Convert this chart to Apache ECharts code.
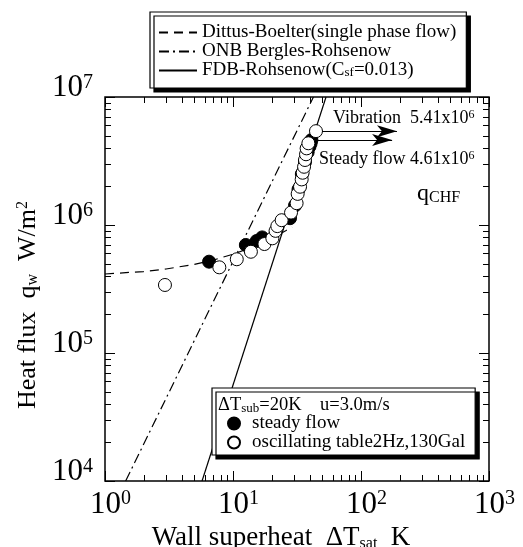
<!DOCTYPE html>
<html>
<head>
<meta charset="utf-8">
<script src="https://cdn.jsdelivr.net/npm/echarts@6/dist/echarts.min.js"></script>
<style>
  html, body { margin: 0; padding: 0; background: #fff; }
  #chart { width: 523px; height: 547px; }
</style>
</head>
<body>
<div id="chart"></div>
<script>
const SERIF = '"Liberation Serif", "DejaVu Serif", serif';

// Axis ranges (wall superheat in K, heat flux in W/m2)
const xRange = [1, 1000];
const yRange = [1e4, 1e7];

// Measured boiling curve, steady flow (filled circles)
const steadyDT = [6.5, 12.6, 15.3, 16.9, 27.9, 30.5, 32.5, 34.5, 36.5, 38.3, 39.6, 40.4, 41.0];
const steadyQ  = [5.17e5, 6.98e5, 7.5e5, 8.0e5, 1.13e6, 1.42e6, 1.9e6, 2.5e6, 3.1e6, 3.7e6, 4.1e6, 4.35e6, 4.61e6];

// Measured boiling curve, oscillating table 2 Hz / 130 Gal (open circles)
const oscDT = [2.94, 7.82, 10.7, 13.8, 17.6, 20.3, 21.5, 22.2, 24.0, 28.4, 31.4, 32.0, 33.4, 34.4, 35.0, 35.9, 36.5, 37.2, 37.6, 38.8, 44.5];
const oscQ  = [3.4e5, 4.67e5, 5.4e5, 6.18e5, 7.1e5, 7.87e5, 9.0e5, 9.8e5, 1.09e6, 1.25e6, 1.48e6, 1.75e6, 1.99e6, 2.27e6, 2.56e6, 2.85e6, 3.22e6, 3.57e6, 3.97e6, 4.35e6, 5.41e6];

// Correlations
const dittusDT = [1, 2, 3, 5, 7, 10, 14, 18, 22, 26, 29];
const dittusQ  = [4.14e5, 4.33e5, 4.53e5, 4.93e5, 5.32e5, 5.91e5, 6.7e5, 7.49e5, 8.27e5, 9.06e5, 9.65e5];
const onbDT = [1.45, 42.5];
const onbQ  = [1e4, 1e7];
const fdbDT = [5.73, 53.3];
const fdbQ  = [1e4, 1e7];

// Critical heat flux
const chfVibration = 5.41e6;
const chfSteady = 4.61e6;
const chfVibrationArrowDT = [49.6, 191];
const chfSteadyArrowDT = [45.3, 175];

const names = {
  dittus: 'Dittus-Boelter(single phase flow)',
  onb: 'ONB Bergles-Rohsenow',
  fdb: 'FDB-Rohsenow(Csf=0.013)',
  steady: 'steady flow',
  osc: 'oscillating table2Hz,130Gal'
};

const zip = (a, b) => a.map((v, i) => [v, b[i]]);

// Decade and 2..9 ticks for a log axis
function logTicks(lo, hi) {
  const out = [];
  for (let d = lo; d < hi * 0.999; d *= 10) {
    for (let m = 1; m <= 9; m++) out.push([d * m, m === 1 ? 1 : 0]);
  }
  out.push([hi, 1]);
  return out;
}
const xTicks = logTicks(xRange[0], xRange[1]);
const yTicks = logTicks(yRange[0], yRange[1]);

const MAJOR = 10, MINOR = 6;
const tickStyle = { stroke: '#000', lineWidth: 1 };

// Inward ticks on all four sides of the frame
function xTickItem(params, api) {
  const v = api.value(0);
  const L = api.value(2) ? MAJOR : MINOR;
  const b = api.coord([v, yRange[0]]);
  const t = api.coord([v, yRange[1]]);
  const x = Math.round(b[0]) + 0.5;
  return { type: 'group', children: [
    { type: 'line', shape: { x1: x, y1: b[1], x2: x, y2: b[1] - L }, style: tickStyle },
    { type: 'line', shape: { x1: x, y1: t[1], x2: x, y2: t[1] + L }, style: tickStyle }
  ] };
}
function yTickItem(params, api) {
  const v = api.value(1);
  const L = api.value(2) ? MAJOR : MINOR;
  const l = api.coord([xRange[0], v]);
  const r = api.coord([xRange[1], v]);
  const y = Math.round(l[1]) + 0.5;
  return { type: 'group', children: [
    { type: 'line', shape: { x1: l[0], y1: y, x2: l[0] + L, y2: y }, style: tickStyle },
    { type: 'line', shape: { x1: r[0], y1: y, x2: r[0] - L, y2: y }, style: tickStyle }
  ] };
}

const powLabel = v => '{b|10}{s|' + Math.round(Math.log10(v)) + '}';
const powRich = {
  b: { fontFamily: SERIF, fontSize: 31, color: '#000' },
  s: { fontFamily: SERIF, fontSize: 20, color: '#000', verticalAlign: 'top' }
};

const chart = echarts.init(document.getElementById('chart'), null, { renderer: 'canvas' });

chart.setOption({
  animation: false,
  backgroundColor: '#fff',
  textStyle: { fontFamily: SERIF, color: '#000' },
  grid: { left: 105, top: 97, width: 384, height: 384, outerBoundsMode: 'none', containLabel: false,
    show: true, borderColor: '#000', borderWidth: 1.5, backgroundColor: 'transparent' },
  xAxis: {
    type: 'log', logBase: 10, min: xRange[0], max: xRange[1],
    axisLine: { show: false }, axisTick: { show: false }, splitLine: { show: false },
    axisLabel: { margin: 8, padding: [0, 0, 0, 11], formatter: powLabel, rich: powRich },
    name: 'Wall superheat  ΔT{sub|sat}  K',
    nameLocation: 'middle', nameGap: 30,
    nameTextStyle: { fontFamily: SERIF, fontSize: 27, color: '#000', padding: [0, 32, 0, 0],
      rich: { sub: { fontFamily: SERIF, fontSize: 16, color: '#000', verticalAlign: 'bottom' } } }
  },
  yAxis: {
    type: 'log', logBase: 10, min: yRange[0], max: yRange[1],
    axisLine: { show: false }, axisTick: { show: false }, splitLine: { show: false },
    axisLabel: { margin: 12, padding: [0, 0, 18, 0], formatter: powLabel, rich: powRich },
    name: 'Heat flux  q{sub|w}  W/m{sup|2}',
    nameLocation: 'middle', nameGap: 57,
    nameTextStyle: { fontFamily: SERIF, fontSize: 26, color: '#000', padding: [0, 32, 0, 0],
      rich: {
        sub: { fontFamily: SERIF, fontSize: 16, color: '#000', verticalAlign: 'bottom' },
        sup: { fontFamily: SERIF, fontSize: 16, color: '#000', verticalAlign: 'top' }
      } }
  },
  legend: [
    {
      data: [names.dittus, names.onb, names.fdb],
      orient: 'vertical', left: 150, top: 12,
      itemWidth: 38, itemHeight: 12, itemGap: 0,
      padding: [11, 10, 8, 8],
      backgroundColor: '#fff', borderColor: '#000', borderWidth: 1.2,
      shadowColor: '#000', shadowBlur: 0, shadowOffsetX: 4, shadowOffsetY: 4,
      selectedMode: false,
      itemStyle: { opacity: 0 },
      formatter: n => n === names.fdb ? 'FDB-Rohsenow(C{sub|sf}=0.013)' : n,
      textStyle: { fontFamily: SERIF, fontSize: 19, lineHeight: 18, color: '#000',
        rich: { sub: { fontFamily: SERIF, fontSize: 13, color: '#000', verticalAlign: 'bottom' } } }
    },
    {
      data: [names.steady, names.osc],
      orient: 'vertical', left: 212, top: 388,
      itemWidth: 26, itemHeight: 12, itemGap: 0,
      padding: [26, 10, 3, 15],
      backgroundColor: '#fff', borderColor: '#000', borderWidth: 1.2,
      shadowColor: '#000', shadowBlur: 0, shadowOffsetX: 4, shadowOffsetY: 4,
      selectedMode: false,
      textStyle: { fontFamily: SERIF, fontSize: 19, lineHeight: 18, color: '#000' }
    }
  ],
  graphic: [
    { type: 'text', left: 218, top: 396, z: 100,
      style: { text: 'ΔT{sub|sub}=20K    u=3.0m/s', fill: '#000', font: '18.5px ' + SERIF,
        rich: { sub: { fontFamily: SERIF, fontSize: 13, fill: '#000', verticalAlign: 'bottom' } } } },
    { type: 'text', left: 333, top: 109, z: 100,
      style: { text: 'Vibration  5.41x10{sup|6}', fill: '#000', font: '18px ' + SERIF,
        rich: { sup: { fontFamily: SERIF, fontSize: 12, fill: '#000', verticalAlign: 'top' } } } },
    { type: 'text', left: 319, top: 150, z: 100,
      style: { text: 'Steady flow 4.61x10{sup|6}', fill: '#000', font: '18px ' + SERIF,
        rich: { sup: { fontFamily: SERIF, fontSize: 12, fill: '#000', verticalAlign: 'top' } } } },
    { type: 'text', left: 417, top: 182, z: 100,
      style: { text: 'q{sub|CHF}', fill: '#000', font: '24px ' + SERIF,
        rich: { sub: { fontFamily: SERIF, fontSize: 16, fill: '#000', verticalAlign: 'bottom' } } } }
  ],
  series: [
    { type: 'custom', name: 'xticks', coordinateSystem: 'cartesian2d', silent: true, z: 1,
      renderItem: xTickItem, encode: { x: 0, y: 1 },
      data: xTicks.map(([v, m]) => [v, yRange[0], m]) },
    { type: 'custom', name: 'yticks', coordinateSystem: 'cartesian2d', silent: true, z: 1,
      renderItem: yTickItem, encode: { x: 0, y: 1 },
      data: yTicks.map(([v, m]) => [xRange[0], v, m]) },
    { type: 'line', name: names.dittus, data: zip(dittusDT, dittusQ), symbol: 'none', smooth: false, z: 2,
      lineStyle: { color: '#000', width: 1.2, type: [9, 6] }, itemStyle: { color: '#000' } },
    { type: 'line', name: names.onb, data: zip(onbDT, onbQ), symbol: 'none', z: 2,
      lineStyle: { color: '#000', width: 1.2, type: [10, 4, 2, 4] }, itemStyle: { color: '#000' } },
    { type: 'line', name: names.fdb, data: zip(fdbDT, fdbQ), symbol: 'none', z: 2,
      lineStyle: { color: '#000', width: 1.2, type: 'solid' }, itemStyle: { color: '#000' } },
    { type: 'scatter', name: names.steady, data: zip(steadyDT, steadyQ), symbol: 'circle', symbolSize: 13, z: 3,
      itemStyle: { color: '#000', borderColor: '#000', borderWidth: 1, opacity: 1 },
      markLine: { silent: true, symbol: ['none', 'arrow'], symbolSize: [9, 20],
        label: { show: false }, lineStyle: { color: '#000', width: 1.2, type: 'solid' },
        data: [[{ coord: [chfSteadyArrowDT[0], chfSteady] }, { coord: [chfSteadyArrowDT[1], chfSteady] }]] } },
    { type: 'scatter', name: names.osc, data: zip(oscDT, oscQ), symbol: 'circle', symbolSize: 13, z: 4,
      itemStyle: { color: '#fff', borderColor: '#000', borderWidth: 1, opacity: 1 },
      markLine: { silent: true, symbol: ['none', 'arrow'], symbolSize: [9, 20],
        label: { show: false }, lineStyle: { color: '#000', width: 1.2, type: 'solid' },
        data: [[{ coord: [chfVibrationArrowDT[0], chfVibration] }, { coord: [chfVibrationArrowDT[1], chfVibration] }]] } }
  ]
});
</script>
</body>
</html>
